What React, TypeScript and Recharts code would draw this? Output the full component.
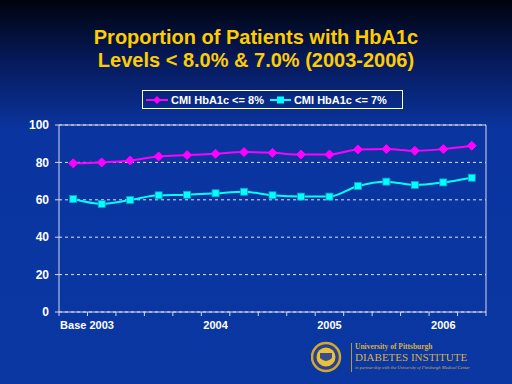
import React from 'react';
import {
  LineChart,
  Line,
  XAxis,
  YAxis,
  CartesianGrid,
  ReferenceLine,
} from 'recharts';

const periodLabels = ['Base', '2003', '', '', '', '2004', '', '', '', '2005', '', '', '', '2006', ''];
const below8 = [79.5, 80, 81, 83.2, 83.9, 84.6, 85.5, 85.1, 84.2, 84.2, 86.9, 87.1, 86.2, 87.1, 88.9];
const below7 = [60.4, 57.8, 59.9, 62.4, 62.7, 63.5, 64.3, 62.4, 61.7, 61.7, 67.4, 69.7, 67.9, 69.3, 71.8];
const yTicks = [0, 20, 40, 60, 80, 100];

const seriesNames = ['CMI HbA1c <= 8%', 'CMI HbA1c <= 7%'];

const data = periodLabels.map((label, i) => ({
  x: i + 0.5,
  label,
  a: below8[i],
  b: below7[i],
}));

// ticks at band edges (marks) and band centres (labels), Excel style
const xTicks: number[] = [];
for (let i = 0; i <= periodLabels.length; i++) {
  xTicks.push(i);
  if (i < periodLabels.length) xTicks.push(i + 0.5);
}

const FONT = '"Liberation Sans", Arial, sans-serif';

const XTick = (props: any) => {
  const { x, y, payload } = props;
  const v = payload.value;
  if (Number.isInteger(v)) {
    return <line x1={x} x2={x} y1={y - 8} y2={y - 4} stroke="#d8d8e8" strokeWidth={1} />;
  }
  const label = periodLabels[Math.floor(v)];
  return (
    <text x={x} y={y + 9} textAnchor="middle" fill="#ffffff" fontSize={11} fontWeight="bold" fontFamily={FONT}>
      {label}
    </text>
  );
};

const Diamond = (props: any) => {
  const { cx, cy } = props;
  if (cx == null || cy == null) return null;
  const r = 4.5;
  return (
    <polygon
      points={`${cx},${cy - r} ${cx + r},${cy} ${cx},${cy + r} ${cx - r},${cy}`}
      fill="#ff00ff"
      stroke="#ff00ff"
    />
  );
};

const Square = (props: any) => {
  const { cx, cy } = props;
  if (cx == null || cy == null) return null;
  const s = 7;
  return <rect x={cx - s / 2} y={cy - s / 2} width={s} height={s} fill="#00ffff" stroke="#10a0c0" strokeWidth={0.8} />;
};

const LegendBox = () => (
  <div
    style={{
      position: 'absolute',
      left: 142,
      top: 90,
      width: 259,
      height: 17,
      border: '1px solid #ffffff',
      display: 'flex',
      alignItems: 'center',
      fontFamily: FONT,
      fontSize: 11,
      fontWeight: 'bold',
      color: '#ffffff',
      whiteSpace: 'nowrap',
    }}
  >
    <svg width={22} height={10} style={{ marginLeft: 3 }}>
      <line x1={0} x2={22} y1={5} y2={5} stroke="#ff00ff" strokeWidth={2} />
      <polygon points="11,1 15,5 11,9 7,5" fill="#ff00ff" />
    </svg>
    <span style={{ marginLeft: 3 }}>{seriesNames[0]}</span>
    <svg width={21} height={10} style={{ marginLeft: 6 }}>
      <line x1={0} x2={21} y1={5} y2={5} stroke="#00ffff" strokeWidth={2} />
      <rect x={7} y={1.5} width={7} height={7} fill="#00ffff" />
    </svg>
    <span style={{ marginLeft: 3 }}>{seriesNames[1]}</span>
  </div>
);

const Logo = () => (
  <div style={{ position: 'absolute', left: 311, top: 341 }}>
    <svg width={34} height={34} style={{ position: 'absolute', left: 0, top: 0 }}>
      <circle cx={15} cy={16} r={14} fill="#2a3f8f" stroke="#d0a830" strokeWidth={2.5} />
      <circle cx={15} cy={16} r={9.5} fill="#e6c23a" />
      <path d="M9 12 h12 v5 q-6 6 -12 0 z" fill="#3a4a8a" />
    </svg>
    <div style={{ position: 'absolute', left: 40, top: 2, width: 1, height: 29, background: '#b8963a' }} />
    <div
      style={{
        position: 'absolute',
        left: 44,
        top: 1,
        fontFamily: '"Liberation Serif", "DejaVu Serif", serif',
        color: '#d8b040',
        whiteSpace: 'nowrap',
      }}
    >
      <div style={{ fontSize: 7.5, fontWeight: 'bold', lineHeight: '9px' }}>University of Pittsburgh</div>
      <div style={{ fontSize: 11, lineHeight: '13px' }}>DIABETES INSTITUTE</div>
      <div style={{ fontSize: 4.5, fontStyle: 'italic', lineHeight: '8px' }}>
        in partnership with the University of Pittsburgh Medical Center
      </div>
    </div>
  </div>
);

export default function App() {
  return (
    <div
      style={{
        position: 'absolute',
        left: 0,
        top: 0,
        width: 512,
        height: 384,
        overflow: 'hidden',
        background: 'linear-gradient(180deg, #00030c 0%, #061a5c 16%, #0a35a0 34%, #0a37a2 100%)',
      }}
    >
      <div
        style={{
          position: 'absolute',
          left: 0,
          top: 26,
          width: 512,
          textAlign: 'center',
          fontFamily: FONT,
          fontWeight: 'bold',
          fontSize: 20,
          lineHeight: '23px',
          color: '#ffcc00',
        }}
      >
        Proportion of Patients with HbA1c
        <br />
        Levels &lt; 8.0% &amp; 7.0% (2003-2006)
      </div>
      <LegendBox />
      <div style={{ position: 'absolute', left: 0, top: 0 }}>
        <LineChart width={512} height={384} data={data} margin={{ top: 125, right: 26, bottom: 42, left: 4 }}>
          <CartesianGrid horizontal vertical={false} stroke="#e0e0f0" strokeDasharray="3 3" />
          <XAxis
            dataKey="x"
            type="number"
            domain={[0, periodLabels.length]}
            ticks={xTicks}
            interval={0}
            tick={<XTick />}
            tickLine={false}
            axisLine={{ stroke: '#d8d8e8' }}
            height={30}
          />
          <YAxis
            domain={[0, 100]}
            ticks={yTicks}
            interval={0}
            width={55}
            tickSize={4}
            tickMargin={6}
            tickLine={{ stroke: '#d8d8e8' }}
            axisLine={{ stroke: '#d8d8e8' }}
            tick={{ fill: '#ffffff', fontSize: 12, fontWeight: 'bold', fontFamily: FONT }}
          />
          <ReferenceLine y={100} stroke="#d8d8e8" />
          <ReferenceLine x={periodLabels.length} stroke="#d8d8e8" />
          <Line
            type="monotone"
            dataKey="a"
            name={seriesNames[0]}
            stroke="#ff00ff"
            strokeWidth={2}
            dot={<Diamond />}
            isAnimationActive={false}
          />
          <Line
            type="monotone"
            dataKey="b"
            name={seriesNames[1]}
            stroke="#00ffff"
            strokeWidth={2}
            dot={<Square />}
            isAnimationActive={false}
          />
        </LineChart>
      </div>
      <Logo />
    </div>
  );
}
